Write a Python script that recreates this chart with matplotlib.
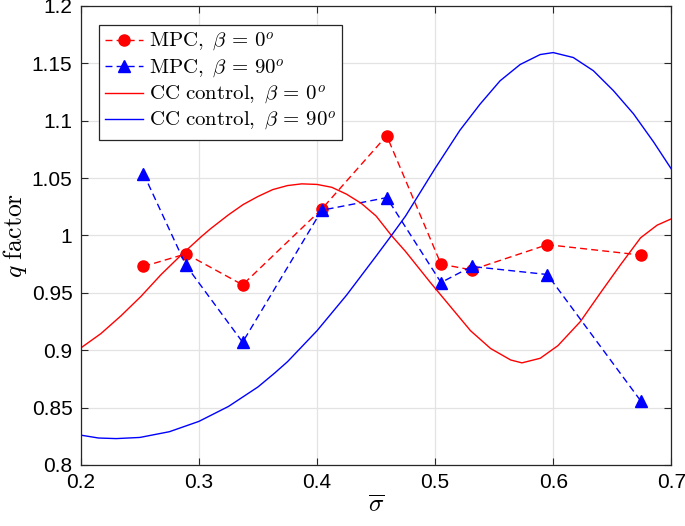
import matplotlib
matplotlib.use('Agg')
import matplotlib.pyplot as plt

plt.rcParams['mathtext.fontset'] = 'cm'
plt.rcParams['font.family'] = ['Liberation Sans', 'DejaVu Sans']

# MPC results (markers)
sigma_mpc = [0.253, 0.289, 0.337, 0.404, 0.459, 0.505, 0.531, 0.595, 0.674]
q_mpc_0 = [0.973, 0.984, 0.957, 1.023, 1.087, 0.975, 0.970, 0.992, 0.983]
q_mpc_90 = [1.054, 0.974, 0.907, 1.022, 1.033, 0.959, 0.973, 0.966, 0.856]

# CC control curves
sigma_cc_0 = [0.200, 0.217, 0.234, 0.251, 0.268, 0.285, 0.302, 0.310, 0.325,
              0.3375, 0.350, 0.3625, 0.375, 0.387, 0.400, 0.4125, 0.425, 0.4375,
              0.450, 0.463, 0.475, 0.496, 0.513, 0.530, 0.547, 0.564, 0.5735,
              0.589, 0.604, 0.623, 0.640, 0.657, 0.674, 0.688, 0.700]
q_cc_0 = [0.902, 0.9145, 0.930, 0.947, 0.966, 0.983, 0.999, 1.006, 1.018,
          1.027, 1.034, 1.040, 1.0435, 1.045, 1.0445, 1.042, 1.036, 1.028,
          1.017, 1.000, 0.986, 0.959, 0.938, 0.917, 0.9015, 0.8915, 0.889,
          0.893, 0.904, 0.925, 0.950, 0.9745, 0.998, 1.009, 1.0145]

sigma_cc_90 = [0.200, 0.215, 0.230, 0.250, 0.275, 0.300, 0.325, 0.350, 0.364,
               0.375, 0.400, 0.425, 0.450, 0.463, 0.475, 0.500, 0.521, 0.538,
               0.555, 0.572, 0.589, 0.600, 0.617, 0.634, 0.651, 0.668, 0.685,
               0.700]
q_cc_90 = [0.826, 0.8235, 0.823, 0.824, 0.829, 0.838, 0.851, 0.868, 0.880,
           0.890, 0.917, 0.948, 0.982, 1.000, 1.017, 1.0585, 1.0917, 1.1144,
           1.1348, 1.149, 1.1577, 1.1594, 1.1551, 1.1436, 1.1262, 1.106, 1.0815,
           1.058]

fig = plt.figure(figsize=(6.85, 5.26), dpi=100)
ax = fig.add_axes([0.118, 0.116, 0.862, 0.8726])

ax.plot(sigma_mpc, q_mpc_0, 'r--', marker='o', ms=8, lw=1.0, dashes=(5, 3),
        label=r'$\mathrm{MPC},\ \beta\,=\,0^o$')
ax.plot(sigma_mpc, q_mpc_90, '--', color='#0000ff', marker='^', ms=9, lw=1.0, dashes=(5, 3),
        label=r'$\mathrm{MPC},\ \beta\,=\,90^o$')
ax.plot(sigma_cc_0, q_cc_0, 'r-', lw=1.0, label=r'$\mathrm{CC\ control},\ \beta\,=\,0^o$')
ax.plot(sigma_cc_90, q_cc_90, '-', color='#0000ff', lw=1.0,
        label=r'$\mathrm{CC\ control},\ \beta\,=\,90^o$')

ax.set_xlim(0.2, 0.7)
ax.set_ylim(0.8, 1.2)
ax.set_xticks([0.2, 0.3, 0.4, 0.5, 0.6, 0.7])
ax.set_yticks([0.8, 0.85, 0.9, 0.95, 1.0, 1.05, 1.1, 1.15, 1.2])
ax.set_xticklabels(['0.2', '0.3', '0.4', '0.5', '0.6', '0.7'])
ax.set_yticklabels(['0.8', '0.85', '0.9', '0.95', '1', '1.05', '1.1', '1.15', '1.2'])
ax.tick_params(direction='in', length=5, width=0.8, top=True, right=True,
               labelsize=15, colors='#262626', labelcolor='black', pad=6)
ax.grid(True, color='#e3e3e3', lw=0.9)
ax.set_axisbelow(True)
for s in ax.spines.values():
    s.set_color('#262626')
    s.set_linewidth(0.9)

ax.set_xlabel(r'$\overline{\sigma}$', fontsize=18, labelpad=0)
ax.set_ylabel(r'$q\ \mathrm{factor}$', fontsize=18.5, labelpad=2)

leg = ax.legend(loc='upper left', bbox_to_anchor=(0.0305, 0.959), borderaxespad=0,
                fontsize=15, fancybox=False, framealpha=1, edgecolor='#262626',
                handlelength=1.8, handletextpad=0.3, labelspacing=0.15,
                borderpad=0.3)
leg.get_frame().set_linewidth(0.9)

fig.savefig('out.png', dpi=100)
